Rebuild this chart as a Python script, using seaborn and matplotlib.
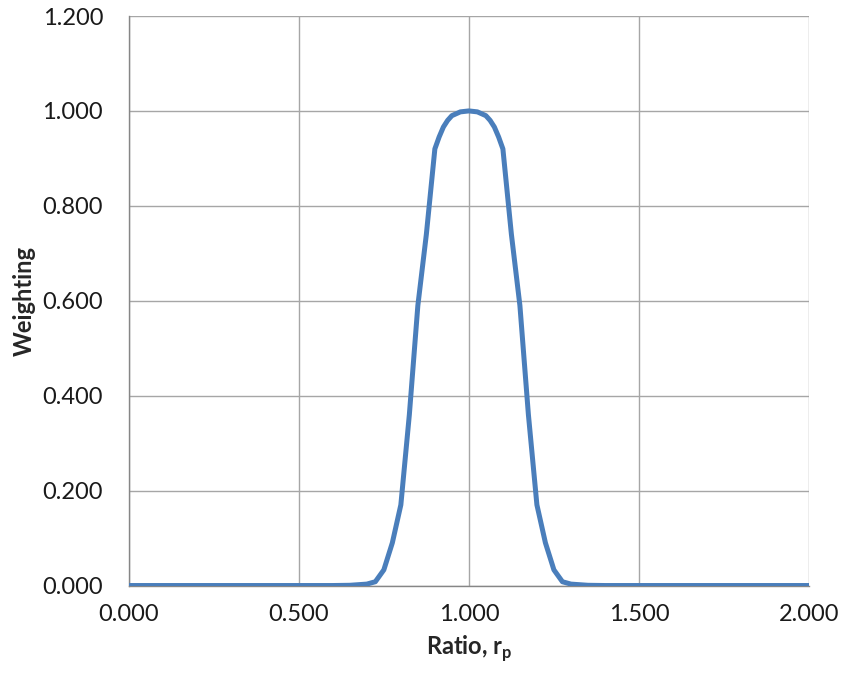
import pandas as pd
import numpy as np
import matplotlib
matplotlib.use("Agg")
import matplotlib.pyplot as plt
import seaborn as sns

# values
ratio = [0.00, 0.10, 0.20, 0.30, 0.40, 0.50, 0.60, 0.65, 0.70, 0.725, 0.75, 0.775,
         0.80, 0.825, 0.85, 0.875, 0.90, 0.9125, 0.925, 0.9375, 0.95, 0.975, 1.00,
         1.025, 1.05, 1.0625, 1.075, 1.0875, 1.10, 1.125, 1.15, 1.175, 1.20, 1.225, 1.25, 1.275,
         1.30, 1.35, 1.40, 1.50, 1.60, 1.70, 1.80, 1.90, 2.00]
weighting = [0.0, 0.0, 0.0, 0.0, 0.0, 0.0, 0.0, 0.0005, 0.003, 0.008, 0.033, 0.09,
             0.17, 0.36, 0.59, 0.74, 0.92, 0.945, 0.966, 0.98, 0.99, 0.998, 1.0,
             0.998, 0.99, 0.98, 0.966, 0.945, 0.92, 0.74, 0.59, 0.36, 0.17, 0.09, 0.033, 0.008,
             0.003, 0.0005, 0.0, 0.0, 0.0, 0.0, 0.0, 0.0, 0.0]
x_ticks = [0.0, 0.5, 1.0, 1.5, 2.0]
y_ticks = [0.0, 0.2, 0.4, 0.6, 0.8, 1.0, 1.2]

df = pd.DataFrame({'ratio': ratio, 'weighting': weighting})

sns.set_style("white")
plt.rcParams['font.family'] = ['Lato', 'DejaVu Sans']
plt.rcParams['mathtext.fontset'] = 'custom'
plt.rcParams['mathtext.rm'] = 'Lato'
plt.rcParams['mathtext.bf'] = 'Lato:bold'

fig = plt.figure(figsize=(8.43, 6.81), dpi=100)
ax = fig.add_axes([0.1527, 0.1402, 0.807, 0.8363])

sns.lineplot(data=df, x='ratio', y='weighting', ax=ax, color='#4A7EBB',
             linewidth=3.6, solid_joinstyle='round', solid_capstyle='round', zorder=3)

grid_col = '#A6A6A6'
ax.set_xlim(0, 2)
ax.set_ylim(0, 1.2)
ax.set_xticks(x_ticks)
ax.set_yticks(y_ticks)
ax.set_xticklabels([f'{v:.3f}' for v in x_ticks])
ax.set_yticklabels([f'{v:.3f}' for v in y_ticks])
ax.grid(True, color=grid_col, linewidth=1.0)
ax.set_axisbelow(True)
for s in ['top', 'right']:
    ax.spines[s].set_visible(False)
for s in ['left', 'bottom']:
    ax.spines[s].set_color('#868686')
    ax.spines[s].set_linewidth(1.0)
ax.tick_params(axis='both', which='major', direction='out', length=6.5, width=1,
               color='#868686', labelsize=17, labelcolor='#1a1a1a')
ax.tick_params(axis='y', pad=12)
ax.tick_params(axis='x', pad=7)

ax.set_xlabel(r'Ratio, r$_\mathbf{p}$', fontsize=17, fontweight='bold', labelpad=6)
ax.set_ylabel('Weighting', fontsize=17, fontweight='bold', labelpad=5)

fig.savefig('out.png', dpi=100)
